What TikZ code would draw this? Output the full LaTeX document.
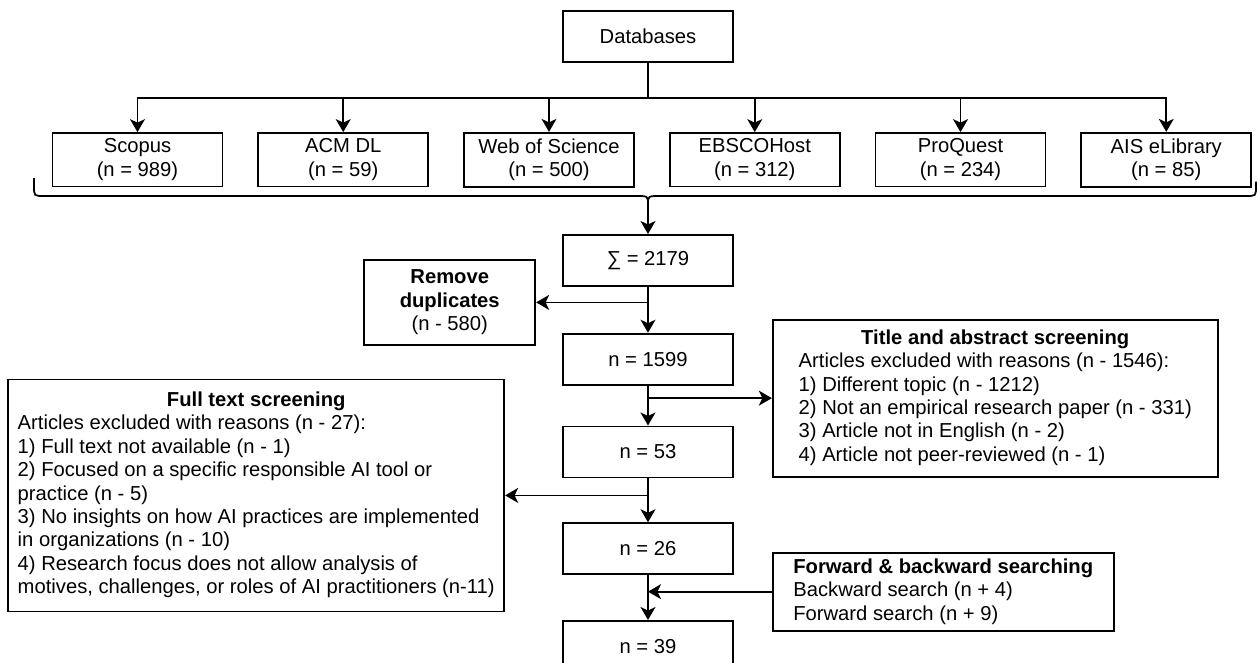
\documentclass[tikz,border=0pt]{standalone}
\usepackage{fontspec}
\setmainfont{Liberation Sans}
\usetikzlibrary{positioning, arrows.meta}
\tikzstyle{countbox} = [rectangle, minimum width=3.4cm, minimum height=1.02cm, text centered, draw=black, line width=1pt]
\tikzstyle{sourcebox} = [rectangle, minimum width=3.4cm, minimum height=1.04cm, align=center, draw=black, line width=1pt]
\tikzstyle{dupbox} = [rectangle, minimum width=3.42cm, minimum height=1.7cm, align=center, draw=black, line width=1pt]
\tikzstyle{exclbox} = [rectangle, draw=black, line width=1pt]
\tikzstyle{arrow} = [line width=1pt,-{Stealth[length=7.4pt,width=8.5pt,inset=2pt]}]
\tikzstyle{connector} = [line width=1pt]

\begin{document}
\begin{tikzpicture}[font=\fontsize{11.5}{13.3}\selectfont]
\useasboundingbox (-12.96,0.73) rectangle (12.2,-12.51);

%Nodes
\node (db) [countbox] {Databases};
\node (wos) [sourcebox, below=1.38cm of db, xshift=-1.98cm] {Web of Science\\(n = 500)};
\node (acm) [sourcebox, left=0.68cm of wos] {ACM DL\\(n = 59)};
\node (scopus) [sourcebox, left=0.68cm of acm] {Scopus\\(n = 989)};
\node (ebsco) [sourcebox, right=0.68cm of wos] {EBSCOHost\\(n = 312)};
\node (proquest) [sourcebox, right=0.68cm of ebsco] {ProQuest\\(n = 234)};
\node (ais) [sourcebox, right=0.68cm of proquest] {AIS eLibrary\\(n = 85)};

\coordinate (bracetip) at (0,-3.35);
\node (sum) [countbox, below=0.6cm of bracetip] {∑ = 2179};
\node (n1599) [countbox, below=0.92cm of sum] {n = 1599};
\node (n53) [countbox, below=0.8cm of n1599] {n = 53};
\node (n26) [countbox, below=0.88cm of n53] {n = 26};
\node (n39) [countbox, below=0.9cm of n26] {n = 39};

\node (dup) [dupbox, left=0.52cm of sum, yshift=-0.84cm] {\textbf{Remove}\\\textbf{duplicates}\\(n - 580)};
\node (title) [exclbox, minimum width=8.9cm, minimum height=3.14cm, right=0.76cm of n1599, yshift=-0.78cm] {%
\begin{tabular}{@{}l@{}}
\multicolumn{1}{@{}c@{}}{\textbf{Title and abstract screening}}\\
Articles excluded with reasons (n - 1546):\\
1) Different topic (n - 1212)\\
2) Not an empirical research paper (n - 331)\\
3) Article not in English (n - 2)\\
4) Article not peer-reviewed (n - 1)
\end{tabular}};
\node (full) [exclbox, minimum width=9.92cm, minimum height=4.64cm, left=1.14cm of n53, yshift=-0.87cm] {%
\begin{tabular}{@{}l@{}}
\multicolumn{1}{@{}c@{}}{\textbf{Full text screening}}\\
Articles excluded with reasons (n - 27):\\
1) Full text not available (n - 1)\\
2) Focused on a specific responsible AI tool or\\
practice (n - 5)\\
3) No insights on how AI practices are implemented\\
in organizations (n - 10)\\
4) Research focus does not allow analysis of\\
motives, challenges, or roles of AI practitioners (n-11)
\end{tabular}};
\node (fwd) [exclbox, align=left, minimum width=6.82cm, minimum height=1.56cm, right=0.76cm of n26, yshift=-0.86cm] {\textbf{Forward \& backward searching}\\Backward search (n + 4)\\Forward search (n + 9)};

%Arrows
\draw [arrow] (db.south) -- ++(0,-0.7) -| (scopus.north);
\draw [arrow] (db.south) -- ++(0,-0.7) -| (acm.north);
\draw [arrow] (db.south) -- ++(0,-0.7) -| (wos.north);
\draw [arrow] (db.south) -- ++(0,-0.7) -| (ebsco.north);
\draw [arrow] (db.south) -- ++(0,-0.7) -| (proquest.north);
\draw [arrow] (db.south) -- ++(0,-0.7) -| (ais.north);

%Brace
\draw [connector] (-12.28,-2.83) -- (-12.28,-2.99) .. controls (-12.28,-3.19) .. (-12.08,-3.19)
  -- (-0.24,-3.19) .. controls (0,-3.19) .. (bracetip) .. controls (0,-3.19) .. (0.24,-3.19)
  -- (11.96,-3.19) .. controls (12.16,-3.19) .. (12.16,-2.99) -- (12.16,-2.9);

\draw [arrow] (bracetip) -- (sum);
\draw [arrow] (sum) -- (n1599);
\draw [arrow] (n1599) -- (n53);
\draw [arrow] (n53) -- (n26);
\draw [arrow] (n26) -- (n39);

\draw [arrow] (sum.south |- dup.east) -- (dup.east);
\draw [arrow] (n1599.south |- title.west) -- (title.west);
\draw [arrow] (n53.south |- full.east) -- (full.east);
\draw [arrow] (fwd.west) -- (n26.south |- fwd.west);

\end{tikzpicture}
\end{document}
